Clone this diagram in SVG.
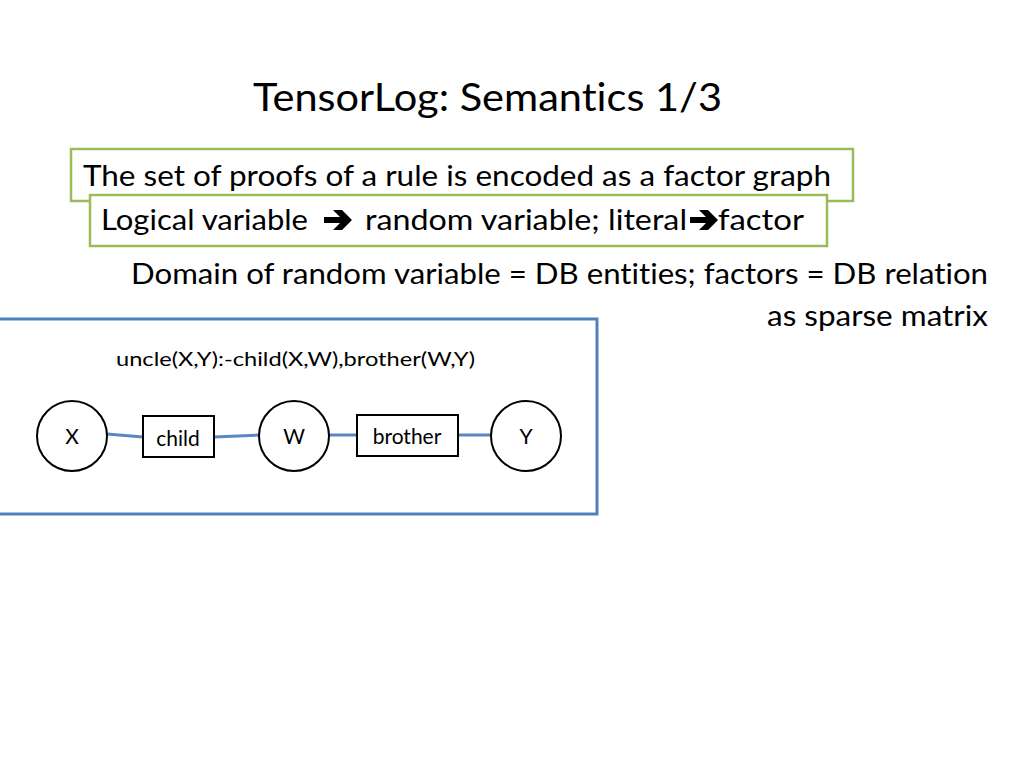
<svg xmlns="http://www.w3.org/2000/svg" width="1024" height="768" viewBox="0 0 1024 768">
<style>
.t{font-family:Lato,"Liberation Sans",sans-serif;fill:#000;font-variant-ligatures:none;font-feature-settings:"liga" 0}
.g{fill:#fff;stroke:#9bbb59;stroke-width:2.5}
.n{fill:#fff;stroke:#000;stroke-width:2}
.e{stroke:#5b87c0;stroke-width:3;fill:none}
</style>
<defs>
<path id="arr" d="M0,-3 H16 L9,-10 H18 L28,0 L18,10 H9 L16,3 H0 Z" fill="#000"/>
</defs>
<rect width="1024" height="768" fill="#fff"/>
<text class="t" x="253" y="111" font-size="38" textLength="469" lengthAdjust="spacingAndGlyphs">TensorLog: Semantics 1/3</text>
<g id="box1"><rect class="g" x="71" y="149" width="782" height="52"/>
<text class="t" x="83" y="186" font-size="28" textLength="748" lengthAdjust="spacingAndGlyphs">The set of proofs of a rule is encoded as a factor graph</text></g>
<g id="box2"><rect class="g" x="90" y="195" width="737" height="51"/>
<text class="t" x="101" y="230" font-size="28" textLength="207" lengthAdjust="spacingAndGlyphs">Logical variable</text>
<use href="#arr" x="324" y="220"/>
<text class="t" x="365" y="230" font-size="28" textLength="322" lengthAdjust="spacingAndGlyphs">random variable; literal</text>
<use href="#arr" x="690" y="220"/>
<text class="t" x="718" y="230" font-size="28" textLength="86" lengthAdjust="spacingAndGlyphs">factor</text></g>
<text class="t" x="131" y="284" font-size="28" textLength="857" lengthAdjust="spacingAndGlyphs">Domain of random variable = DB entities; factors = DB relation</text>
<text class="t" x="988" y="326" font-size="28" text-anchor="end" textLength="221" lengthAdjust="spacingAndGlyphs">as sparse matrix</text>
<g id="frame"><rect x="-2" y="319" width="599" height="195" fill="none" stroke="#4f81bd" stroke-width="3"/>
<text class="t" x="116" y="366" font-size="20" textLength="359" lengthAdjust="spacingAndGlyphs">uncle(X,Y):-child(X,W),brother(W,Y)</text></g>
<g id="connectors">
<line class="e" x1="107" y1="434" x2="143" y2="437"/>
<line class="e" x1="214" y1="437" x2="259" y2="435"/>
<line class="e" x1="329" y1="435" x2="357" y2="435"/>
<line class="e" x1="458" y1="435" x2="491" y2="435"/>
</g>
<g id="X"><circle class="n" cx="72" cy="436" r="35"/><text class="t" x="72" y="444" font-size="21" text-anchor="middle">X</text></g>
<g id="child"><rect class="n" x="143" y="416" width="71" height="41"/><text class="t" x="178" y="446" font-size="21" text-anchor="middle">child</text></g>
<g id="W"><circle class="n" cx="294" cy="436" r="35"/><text class="t" x="294" y="444" font-size="21" text-anchor="middle">W</text></g>
<g id="brother"><rect class="n" x="357" y="415" width="101" height="41"/><text class="t" x="407" y="444" font-size="21" text-anchor="middle">brother</text></g>
<g id="Y"><circle class="n" cx="526" cy="436" r="35"/><text class="t" x="526" y="444" font-size="21" text-anchor="middle">Y</text></g>
</svg>
